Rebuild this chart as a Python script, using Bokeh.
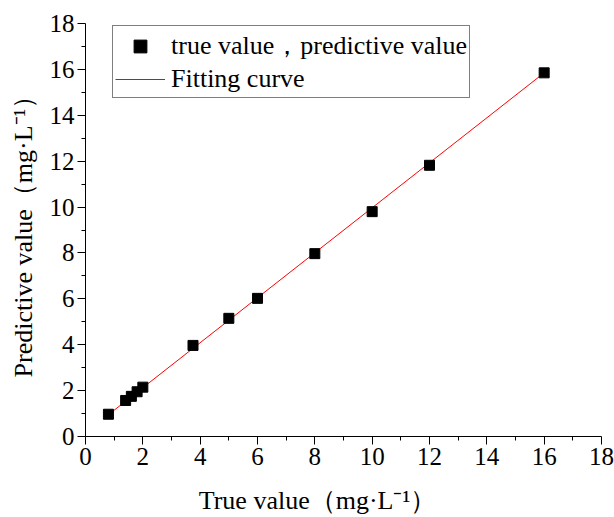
from bokeh.plotting import figure
from bokeh.models import Range1d, FixedTicker, Legend, LegendItem
from bokeh.embed import file_html
from bokeh.resources import INLINE

true_vals = [0.8, 1.4, 1.6, 1.8, 2.0, 3.75, 5.0, 6.0, 8.0, 10.0, 12.0, 16.0]
pred_vals = [0.97, 1.57, 1.75, 1.95, 2.15, 3.97, 5.15, 6.02, 7.97, 9.8, 11.82, 15.85]
fit_x = [0.8, 16.0]
fit_y = [0.95, 15.85]
major_ticks = [0, 2, 4, 6, 8, 10, 12, 14, 16, 18]
minor_ticks = [1, 3, 5, 7, 9, 11, 13, 15, 17]

FONT = "Liberation Serif"

p = figure(width=614, height=517, output_backend="svg", toolbar_location=None,
           x_range=Range1d(0, 18), y_range=Range1d(0, 18),
           min_border_left=85, min_border_right=13, min_border_top=23, min_border_bottom=81)
p.outline_line_color = None
p.xgrid.visible = False
p.ygrid.visible = False

r_line = p.line(fit_x, fit_y, line_color="#ff0000", line_width=1)
r_pts = p.scatter(true_vals, pred_vals, marker="square", size=10, fill_color="black", line_color="black")

for ax in (p.xaxis[0], p.yaxis[0]):
    ax.ticker = FixedTicker(ticks=major_ticks, minor_ticks=minor_ticks)
    ax.axis_line_color = "black"
    ax.axis_line_width = 1
    ax.major_tick_in = 0
    ax.major_tick_out = 8
    ax.minor_tick_in = 0
    ax.minor_tick_out = 4
    ax.major_tick_line_color = "black"
    ax.minor_tick_line_color = "black"
    ax.major_label_text_font = FONT
    ax.major_label_text_font_size = "25px"
    ax.major_label_text_color = "black"
    ax.axis_label_text_font = FONT
    ax.axis_label_text_font_size = "26px"
    ax.axis_label_text_font_style = "normal"
    ax.axis_label_text_color = "black"

p.xaxis[0].axis_label = "True value（mg·L⁻¹）" + "\u2002" * 4
p.yaxis[0].axis_label = "Predictive value（mg·L⁻¹）"
p.xaxis[0].major_label_standoff = 3
p.yaxis[0].major_label_standoff = 3
p.xaxis[0].axis_label_standoff = 18
p.yaxis[0].axis_label_standoff = 9

legend = Legend(items=[
    LegendItem(label="true value，predictive value", renderers=[r_pts]),
    LegendItem(label="Fitting curve", renderers=[r_line]),
], location=(27, 338))
legend.label_text_font = FONT
legend.label_text_font_size = "26px"
legend.label_text_color = "black"
legend.border_line_color = "black"
legend.border_line_width = 1
legend.background_fill_alpha = 1
legend.spacing = 0
legend.padding = 2
legend.margin = 0
legend.glyph_width = 50
legend.label_standoff = 6
legend.label_height = 32
legend.glyph_height = 32
p.add_layout(legend)

open("out.html", "w").write(file_html(p, INLINE))
